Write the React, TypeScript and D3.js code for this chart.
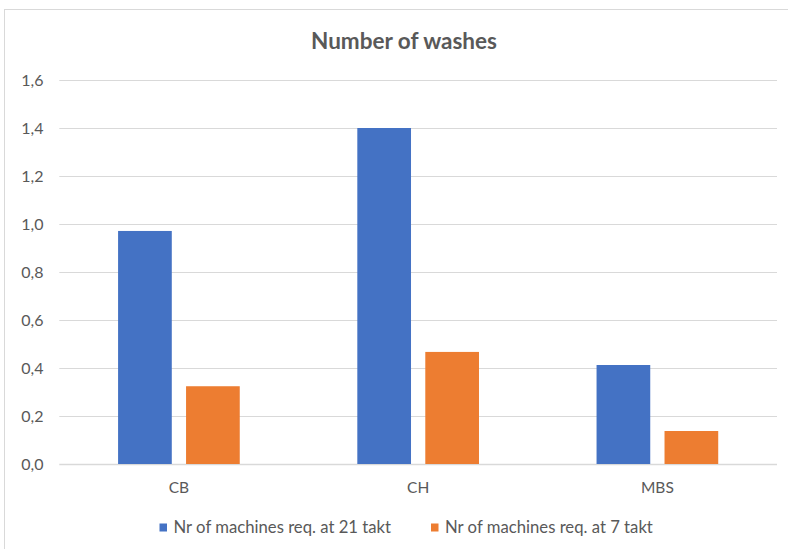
import React from "react";
import * as d3 from "d3";

const categories = ["CB", "CH", "MBS"];
const seriesNames = ["Nr of machines req. at 21 takt", "Nr of machines req. at 7 takt"];
const takt21 = [0.971, 1.4, 0.4125];
const takt7 = [0.324, 0.467, 0.1375];
const yTicks = [0, 0.2, 0.4, 0.6, 0.8, 1.0, 1.2, 1.4, 1.6];
const colors = ["#4472C4", "#ED7D31"];

const W = 788;
const H = 549;
const FONT = "Lato, 'Open Sans', sans-serif";

export default function App() {
  const left = 59.3;
  const right = 777;
  const top = 80;
  const bottom = 464;

  const y = d3.scaleLinear().domain([0, 1.6]).range([bottom, top]);
  const x0 = d3
    .scaleBand<string>()
    .domain(categories)
    .range([left, right])
    .paddingInner(0.4914)
    .paddingOuter(0.2457);
  const x1 = d3
    .scaleBand<string>()
    .domain(seriesNames)
    .range([0, x0.bandwidth()])
    .paddingInner(0.21)
    .paddingOuter(0);

  const seriesValues = [takt21, takt7];
  const fmt = (v: number) => v.toFixed(1).replace(".", ",");
  const legendX = [159.5, 431];

  return (
    <div style={{ position: "absolute", left: 0, top: 0, width: W, height: H, background: "#fff" }}>
      <svg width={W} height={H} style={{ display: "block" }}>
        <rect x={4.5} y={9.5} width={W + 10} height={H + 10} fill="#fff" stroke="#d9d9d9" strokeWidth={1} />
        <text
          x={404}
          y={48.5}
          textAnchor="middle"
          fontFamily={FONT}
          fontSize={22.5}
          fontWeight={700}
          fill="#595959"
        >
          Number of washes
        </text>
        {yTicks.map((t) => (
          <g key={t}>
            <line
              x1={left}
              x2={right}
              y1={Math.round(y(t)) + 0.5}
              y2={Math.round(y(t)) + 0.5}
              stroke="#d9d9d9"
              strokeWidth={t === 0 ? 1.3 : 1}
            />
            <text
              x={43.5}
              y={y(t)}
              dy="0.35em"
              textAnchor="end"
              fontFamily={FONT}
              fontSize={16}
              fill="#595959"
            >
              {fmt(t)}
            </text>
          </g>
        ))}
        {categories.map((c, i) => (
          <g key={c} transform={`translate(${x0(c)},0)`}>
            {seriesNames.map((s, j) => (
              <rect
                key={s}
                x={x1(s)}
                y={y(seriesValues[j][i])}
                width={x1.bandwidth()}
                height={y(0) - y(seriesValues[j][i])}
                fill={colors[j]}
              />
            ))}
            <text
              x={x0.bandwidth() / 2}
              y={493}
              textAnchor="middle"
              fontFamily={FONT}
              fontSize={15.5}
              fill="#595959"
            >
              {c}
            </text>
          </g>
        ))}
        {seriesNames.map((s, j) => {
          const lx = legendX[j];
          return (
            <g key={s}>
              <rect x={lx} y={523.5} width={7.5} height={8} fill={colors[j]} />
              <text
                x={lx + 14}
                y={533}
                fontFamily={FONT}
                fontSize={16.7}
                fill="#595959"
              >
                {s}
              </text>
            </g>
          );
        })}
      </svg>
    </div>
  );
}
